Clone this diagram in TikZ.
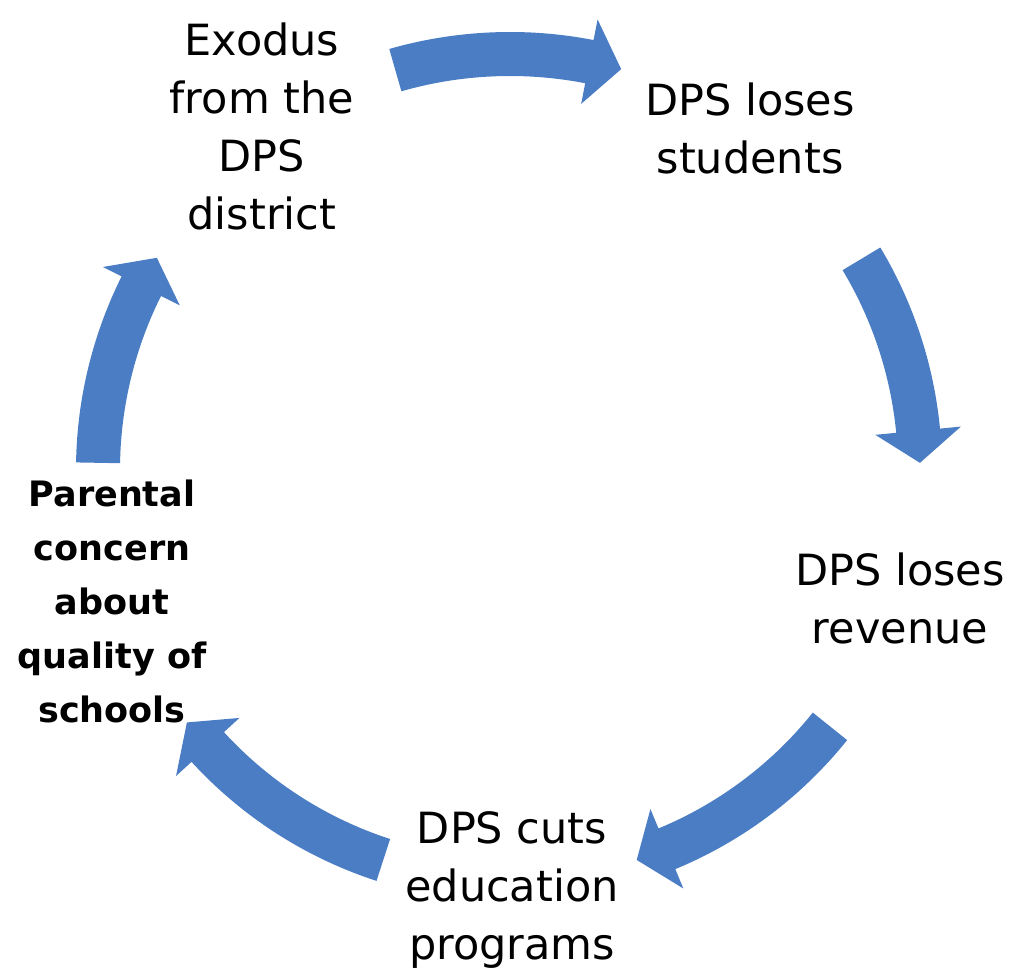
\documentclass[tikz,border=0pt]{standalone}
\usepackage{fontspec}
\setmainfont{DejaVu Sans}
\definecolor{arrowblue}{HTML}{4A7DC4}
\tikzset{
  lbl/.style={align=center, inner sep=0pt, font=\fontsize{43}{58}\selectfont},
  boldlbl/.style={align=center, inner sep=0pt, font=\fontsize{35}{54}\selectfont\bfseries},
  cyclearrow/.style={fill=arrowblue, draw=none}
}
% #1 start angle, #2 head base angle, #3 tip angle, #4 radius
\newcommand{\blockarrow}[4]{%
  \fill[cyclearrow] (#1:#4+22) arc[start angle=#1, end angle=#2, radius=#4+22]
    -- (#2:#4+43) -- (#3:#4) -- (#2:#4-43) -- (#2:#4-22)
    arc[start angle=#2, end angle=#1, radius=#4-22] -- cycle;}
\begin{document}
\begin{tikzpicture}[x=1pt,y=1pt]
  \useasboundingbox (0,0) rectangle (1016,-979);
  \coordinate (C) at (510,-470);
  \node[lbl] (exodus) at (262,-126) {Exodus\\from the\\DPS\\district};
  \node[lbl] (students) at (750,-128) {DPS loses\\students};
  \node[lbl] (revenue) at (900,-598) {DPS loses\\revenue};
  \node[lbl] (cuts) at (512,-890) {DPS cuts\\education\\programs};
  \node[boldlbl] (parental) at (112,-601) {Parental\\concern\\about\\quality of\\schools};
  \begin{scope}[shift={(C)}]
    \blockarrow{106}{79}{74.5}{416}
    \blockarrow{31}{5.5}{1}{410}
    \blockarrow{-38.7}{-67.5}{-72}{410}
    \blockarrow{-108}{-137.5}{-142}{410}
    \blockarrow{179}{153.5}{149}{412}
  \end{scope}
\end{tikzpicture}
\end{document}
